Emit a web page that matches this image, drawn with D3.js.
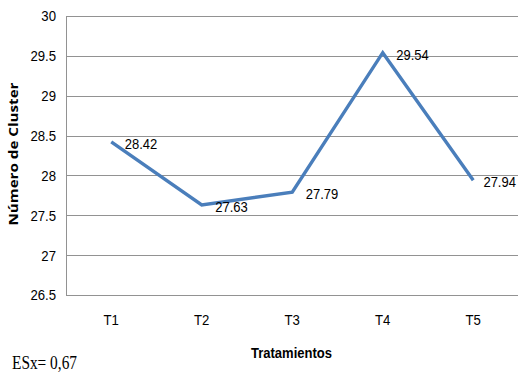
<!DOCTYPE html>
<html>
<head>
<meta charset="utf-8">
<script src="https://cdn.jsdelivr.net/npm/d3@7"></script>
<style>
  html, body { margin: 0; padding: 0; background: #fff; }
  svg { display: block; }
  .num { font-family: "Liberation Sans", Arial, sans-serif; font-size: 15.5px; fill: #000; }
</style>
</head>
<body>
<svg id="chart" width="518" height="373"></svg>
<script>
const categories = ["T1", "T2", "T3", "T4", "T5"];
const values = [28.42, 27.63, 27.79, 29.54, 27.94];
const yTicks = [26.5, 27, 27.5, 28, 28.5, 29, 29.5, 30];

const W = 518, H = 373;
const margin = { left: 66, right: -0.5, top: 16, bottom: 78 };
const svg = d3.select("#chart");

// squeeze text horizontally around its anchor point for a condensed look
function condense(sel, factor) {
  sel.each(function () {
    const ax = +(this.getAttribute("x") || 0);
    d3.select(this).attr("transform",
      `translate(${ax},0) scale(${factor},1) translate(${-ax},0)`);
  });
}

const x = d3.scaleBand()
  .domain(categories)
  .range([margin.left, W - margin.right]);

const y = d3.scaleLinear()
  .domain([26.5, 30])
  .range([H - margin.bottom, margin.top]);

// horizontal gridlines
svg.append("g")
  .selectAll("line")
  .data(yTicks)
  .join("line")
  .attr("x1", margin.left)
  .attr("x2", W)
  .attr("y1", d => Math.round(y(d)) + 0.5)
  .attr("y2", d => Math.round(y(d)) + 0.5)
  .attr("stroke", "#929292")
  .attr("stroke-width", 1);

// left axis line
svg.append("line")
  .attr("x1", margin.left + 0.5).attr("x2", margin.left + 0.5)
  .attr("y1", Math.round(y(30)) + 0.5).attr("y2", Math.round(y(26.5)) + 0.5)
  .attr("stroke", "#929292");

// y tick labels
const yAxis = d3.axisLeft(y).tickValues(yTicks).tickSize(0).tickPadding(10)
  .tickFormat(d => String(d));
const gy = svg.append("g").attr("transform", `translate(${margin.left},0)`).call(yAxis);
gy.select(".domain").remove();
gy.attr("font-family", null).attr("font-size", null);
gy.selectAll("text").attr("class", "num").call(condense, 0.85);

// x tick labels
const xAxis = d3.axisBottom(x).tickSize(0).tickPadding(19);
const gx = svg.append("g").attr("transform", `translate(0,${y(26.5)})`).call(xAxis);
gx.select(".domain").remove();
gx.attr("font-family", null).attr("font-size", null);
gx.selectAll("text").attr("class", "num").call(condense, 0.85);

// series line
const line = d3.line()
  .x((d, i) => x(categories[i]) + x.bandwidth() / 2)
  .y(d => y(d));

svg.append("path")
  .datum(values)
  .attr("d", line)
  .attr("fill", "none")
  .attr("stroke", "#4a7ebb")
  .attr("stroke-width", 3.4)
  .attr("stroke-linejoin", "miter");

// data labels, to the right of each point, kept inside the page
const labelScale = 0.84;
svg.append("g")
  .selectAll("text")
  .data(values)
  .join("text")
  .attr("class", "num")
  .attr("y", d => y(d) + 3)
  .attr("dominant-baseline", "middle")
  .text(d => d.toFixed(2))
  .attr("x", function (d, i) {
    const w = this.getComputedTextLength() * labelScale;
    return Math.min(x(categories[i]) + x.bandwidth() / 2 + 13.5, W - 2 - w);
  })
  .call(condense, labelScale);

// axis titles
svg.append("text")
  .attr("x", 291.5)
  .attr("y", 354)
  .attr("text-anchor", "middle")
  .attr("dominant-baseline", "middle")
  .attr("font-family", "Liberation Sans, Arial, sans-serif")
  .attr("font-weight", "bold")
  .attr("font-size", 15)
  .text("Tratamientos")
  .attr("textLength", 81)
  .attr("lengthAdjust", "spacingAndGlyphs");

svg.append("text")
  .attr("transform", "translate(15,154) rotate(-90)")
  .attr("text-anchor", "middle")
  .attr("dominant-baseline", "middle")
  .attr("font-family", "Open Sans, sans-serif")
  .attr("font-weight", "bold")
  .attr("font-size", 13)
  .text("Número de Cluster")
  .attr("textLength", 143)
  .attr("lengthAdjust", "spacingAndGlyphs");

// standard error note
svg.append("text")
  .attr("x", 12)
  .attr("y", 369)
  .attr("font-family", "Liberation Serif, serif")
  .attr("font-size", 19)
  .text("ESx= 0,67")
  .attr("textLength", 65)
  .attr("lengthAdjust", "spacingAndGlyphs");
</script>
</body>
</html>
